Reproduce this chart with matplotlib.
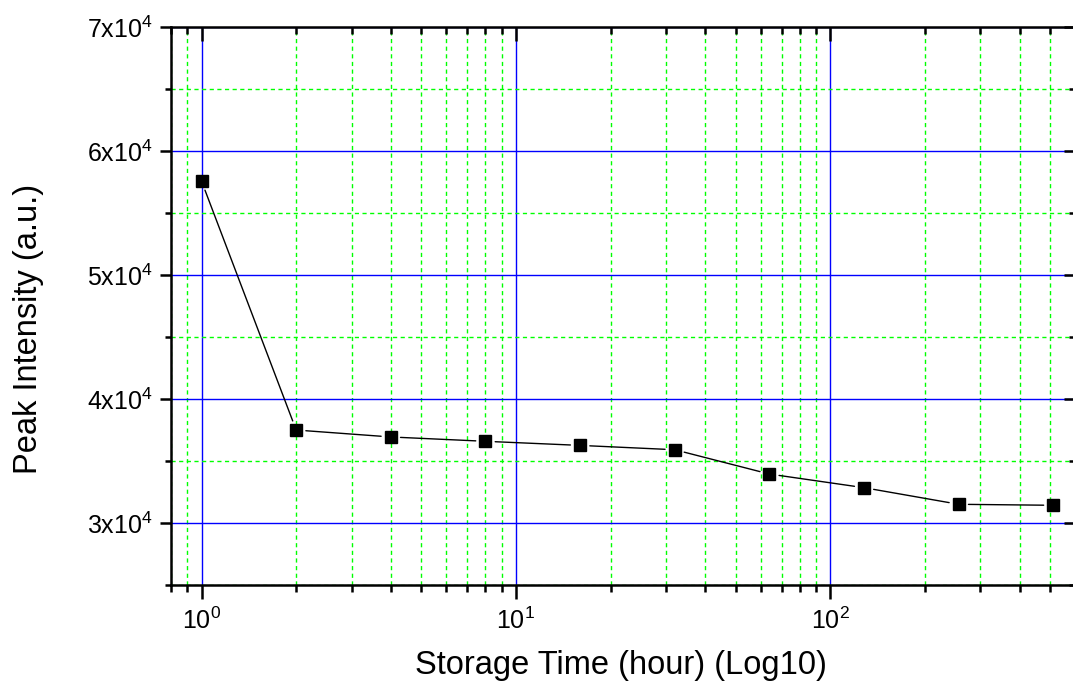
import matplotlib
matplotlib.use("Agg")
import matplotlib.pyplot as plt
from matplotlib.ticker import LogLocator, MultipleLocator, FuncFormatter

plt.rcParams['font.family'] = ['Liberation Sans', 'DejaVu Sans']
plt.rcParams['mathtext.default'] = 'regular'

# Storage time (hours) and measured peak intensity
storage_hours = [1, 2, 4, 8, 16, 32, 64, 128, 256, 512]
peak_intensity = [57580, 37500, 36940, 36590, 36260, 35910, 33950, 32850, 31510, 31430]

x_limits = (0.8, 600)
y_limits = (25000, 70000)
y_major_step = 10000
y_minor_step = 5000

fig = plt.figure(figsize=(10.73, 6.86), dpi=100)
ax = fig.add_axes([0.1594, 0.1472, 0.8425, 0.8134])

ax.set_xscale('log')
ax.set_xlim(*x_limits)
ax.set_ylim(*y_limits)

ax.xaxis.set_major_locator(LogLocator(base=10, numticks=10))
ax.xaxis.set_minor_locator(LogLocator(base=10, subs=range(2, 10), numticks=20))
ax.yaxis.set_major_locator(MultipleLocator(y_major_step))
ax.yaxis.set_minor_locator(MultipleLocator(y_minor_step))


def sci_label(v, pos):
    if v <= 0:
        return ''
    exp = 0
    m = v
    while m >= 10:
        m /= 10
        exp += 1
    return r'%dx10$^{%d}$' % (round(m), exp)


ax.yaxis.set_major_formatter(FuncFormatter(sci_label))
ax.yaxis.set_minor_formatter(FuncFormatter(lambda v, p: ''))

# Grid: blue solid majors, green dashed minors
ax.grid(which='major', color='#0000ff', linestyle='-', linewidth=1.0)
ax.grid(which='minor', color='#00ff00', linestyle=(0, (3, 2.5)), linewidth=1.0)
ax.set_axisbelow(True)

for side in ['left', 'bottom', 'top', 'right']:
    ax.spines[side].set_linewidth(1.8)
    ax.spines[side].set_color('black')

ax.tick_params(axis='both', which='both', width=1.8, colors='black')
ax.tick_params(axis='x', which='major', direction='out', length=10, labelsize=18, pad=6,
               top=True)
ax.tick_params(axis='x', which='minor', direction='out', length=5, top=True)
ax.tick_params(axis='y', which='major', direction='out', length=8, labelsize=18, pad=5,
               right=True)
ax.tick_params(axis='y', which='minor', direction='out', length=4, right=True)

# Top/right ticks point inward
for tick in ax.xaxis.get_major_ticks() + ax.xaxis.get_minor_ticks():
    tick.tick2line.set_marker(3)
for tick in ax.yaxis.get_major_ticks() + ax.yaxis.get_minor_ticks():
    tick.tick2line.set_marker(0)

# Connecting segments with a small gap around each marker
for i in range(len(storage_hours) - 1):
    ax.annotate('', xy=(storage_hours[i + 1], peak_intensity[i + 1]),
                xytext=(storage_hours[i], peak_intensity[i]),
                arrowprops=dict(arrowstyle='-', color='black', lw=1.0,
                                shrinkA=7, shrinkB=7))

ax.plot(storage_hours, peak_intensity, linestyle='none', marker='s',
        markersize=8, color='black', zorder=5, clip_on=False)

ax.set_xlabel('Storage Time (hour) (Log10)', fontsize=23.5)
ax.set_ylabel('Peak Intensity (a.u.)', fontsize=23.5)
ax.xaxis.set_label_coords(0.498, -0.117)
ax.yaxis.set_label_coords(-0.141, 0.459)

fig.savefig('out.png', dpi=100)
